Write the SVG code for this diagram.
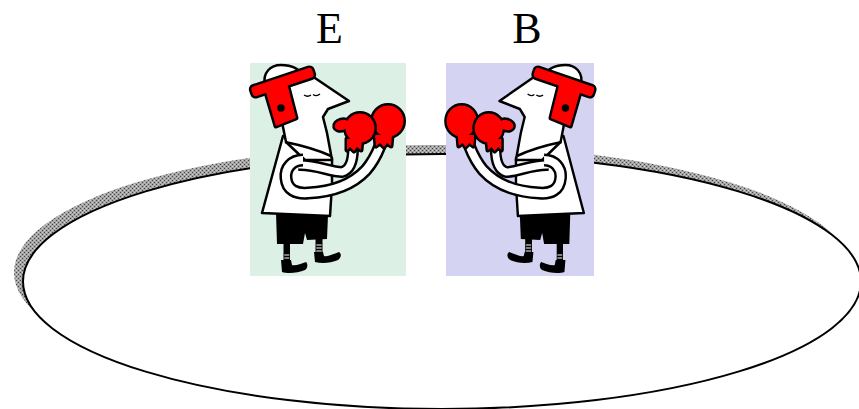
<svg xmlns="http://www.w3.org/2000/svg" xmlns:xlink="http://www.w3.org/1999/xlink" width="859" height="409" viewBox="0 0 859 409">
<style>
.lbl{font-family:"Liberation Serif","Times New Roman",serif;font-size:44px;fill:#000;text-anchor:middle}
.ol{stroke:#000;stroke-width:2.5;stroke-linejoin:round}
.wh{fill:#fff}
.tubeB{fill:none;stroke:#000;stroke-linecap:butt;stroke-linejoin:round}
.tubeW{fill:none;stroke:#fff;stroke-linecap:butt;stroke-linejoin:round}
</style>
<defs>
<pattern id="dither" width="4" height="4" patternUnits="userSpaceOnUse">
<rect width="4" height="4" fill="#a4a4a4"/>
<rect x="0" y="0" width="1" height="1" fill="#444"/>
<rect x="2" y="2" width="1" height="1" fill="#444"/>
<rect x="2" y="0" width="1" height="1" fill="#cfcfcf"/>
<rect x="0" y="2" width="1" height="1" fill="#cfcfcf"/>
</pattern>
<g id="boxer">
<!-- legs -->
<rect x="283.5" y="242" width="6.5" height="20" fill="#000"/>
<path d="M284.3 255h5M284.3 258h5M284.3 261h5" stroke="#fff" stroke-width="1.1"/>
<rect x="315.5" y="236" width="7" height="18" fill="#000"/>
<path d="M316.3 245h5.4M316.3 248h5.4M316.3 251h5.4" stroke="#fff" stroke-width="1.1"/>
<!-- shoes -->
<path d="M281 260L291 260L292 265C296 266 300 264 306 262C308 264 308 268 305 270C298 273 288 274 282 272Z" fill="#000"/>
<path d="M314 252L323 252L324 256C328 257 333 254 339 252C342 254 341 258 338 260C331 263 322 264 315 262Z" fill="#000"/>
<!-- shorts -->
<path d="M276 213L328 215L327 239L307 240L305 233L303 244L277 244Z" fill="#000"/>
<!-- shirt -->
<path class="wh ol" d="M283 136L262 213L330 216L332 185L332 158L316 146Z"/>
<!-- head -->
<path class="wh ol" d="M266 92L309 74L349 101L328 109L323 117L327 133L332 160L305 160L286 142L282 122Z"/>
<path class="wh ol" d="M265 86C262 72 271 65 281 65C291 65 299 68 302 76Z"/>
<!-- helmet band + ear guard (union outline) -->
<g fill="#ff0000" stroke="#000" stroke-width="5" stroke-linejoin="round">
<rect x="250.5" y="77" width="64" height="10" rx="3" transform="rotate(-18.5 282.5 82)"/>
<path d="M265 89L287 83L296 118L276 126Z"/>
</g>
<g fill="#ff0000">
<rect x="250.5" y="77" width="64" height="10" rx="3" transform="rotate(-18.5 282.5 82)"/>
<path d="M265 89L287 83L296 118L276 126Z"/>
</g>
<circle cx="281" cy="108" r="3.8" fill="#000"/>
<path d="M304 95q3.5 2.5 7 0M313 94.5q3.5 2.5 7 -0.5" fill="none" stroke="#000" stroke-width="1.3"/>
<!-- shoulder line -->
<path d="M285 142C300 145 318 150 331 156" fill="none" stroke="#000" stroke-width="2.5"/>
<!-- far arm -->
<path class="tubeB" stroke-width="12" d="M298 165C315 164 330 172 342 172C350 170 353 160 353 148"/>
<path class="tubeW" stroke-width="7" d="M298 165C315 164 330 172 342 172C350 170 353 160 353 148"/>
<!-- near arm with elbow curl -->
<path class="tubeB" stroke-width="13" d="M303 160C292 160 285 168 286 178C287 190 296 194 308 193C330 192 352 185 366 170C372 163 376 156 380 146"/>
<path class="tubeW" stroke-width="8" d="M303 160C292 160 285 168 286 178C287 190 296 194 308 193C330 192 352 185 366 170C372 163 376 156 380 146"/>
<!-- glove 2 -->
<g fill="#ff0000" stroke="#000" stroke-width="5" stroke-linejoin="round">
<path d="M375 135L392 135L391 146L387 143L384 147L380 143L376 146Z"/>
<circle cx="388" cy="121" r="15.5"/>
</g>
<g fill="#ff0000">
<path d="M375 135L392 135L391 146L387 143L384 147L380 143L376 146Z"/>
<circle cx="388" cy="121" r="15.5"/>
</g>
<!-- glove 1 -->
<g fill="#ff0000" stroke="#000" stroke-width="5" stroke-linejoin="round">
<path d="M347 139L362 139L361 150L357 147L354 151L350 147L347 150Z"/>
<ellipse cx="342" cy="125" rx="7.5" ry="5" transform="rotate(-15 342 125)"/>
<circle cx="360" cy="128" r="14.5"/>
</g>
<g fill="#ff0000">
<path d="M347 139L362 139L361 150L357 147L354 151L350 147L347 150Z"/>
<ellipse cx="342" cy="125" rx="7.5" ry="5" transform="rotate(-15 342 125)"/>
<circle cx="360" cy="128" r="14.5"/>
</g>
</g>
</defs>
<rect width="859" height="409" fill="#fff"/>
<g id="ring">
<ellipse cx="433" cy="272.5" rx="419" ry="127.5" fill="url(#dither)"/>
<ellipse cx="442" cy="281.5" rx="419" ry="127.5" fill="#fff" stroke="#000" stroke-width="2"/>
</g>
<g id="connectors"/>
<g id="node-E">
<rect x="250" y="63" width="156" height="213" fill="#dcf0e6"/>
<use xlink:href="#boxer" href="#boxer"/>
<text class="lbl" x="329.5" y="43">E</text>
</g>
<g id="node-B">
<rect x="446" y="63" width="148" height="213" fill="#d4d4f2"/>
<use xlink:href="#boxer" href="#boxer" transform="translate(838 0) scale(-0.97 1)"/>
<text class="lbl" x="527" y="43">B</text>
</g>
</svg>
